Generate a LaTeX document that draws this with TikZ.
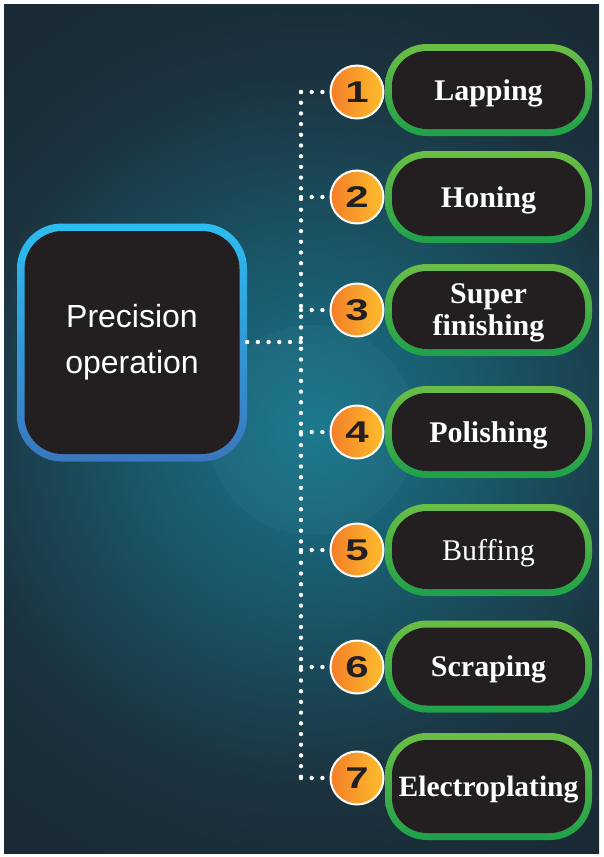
\documentclass[tikz,border=0pt]{standalone}
\usepackage{fontspec}
\setmainfont{Liberation Serif}
\newfontfamily\headfont{Liberation Sans}
\newfontfamily\numfont[FakeStretch=1.4]{Liberation Sans Bold}
\usepackage{tikz}
\usetikzlibrary{positioning}

\definecolor{bgdark}{RGB}{25,36,47}
\definecolor{glowin}{RGB}{22,118,140}
\definecolor{glowmid}{RGB}{26,88,106}
\definecolor{glowout}{RGB}{27,50,62}
\definecolor{boxfill}{RGB}{35,31,32}
\definecolor{bluetop}{RGB}{43,190,240}
\definecolor{bluebot}{RGB}{58,118,190}
\definecolor{grntop}{RGB}{108,190,69}
\definecolor{grnbot}{RGB}{30,160,74}
\definecolor{orgleft}{RGB}{244,125,40}
\definecolor{orgright}{RGB}{253,190,45}
\pgfdeclareradialshading{bgglow}{\pgfpoint{0bp}{0bp}}{color(0bp)=(glowin); color(7bp)=(glowmid); color(15bp)=(glowout); color(25bp)=(bgdark); color(50bp)=(bgdark)}

\begin{document}
\begin{tikzpicture}[
    x=1pt, y=-1pt,
    mainbox/.style={rectangle, rounded corners=45pt, minimum width=230pt, minimum height=238pt,
                    top color=bluetop, bottom color=bluebot, text=white, align=center,
                    font=\headfont\fontsize{32}{46}\selectfont,
                    path picture={\fill[boxfill, rounded corners=38pt]
                      ([shift={(7.5pt,7.5pt)}]path picture bounding box.south west) rectangle
                      ([shift={(-7.5pt,-7.5pt)}]path picture bounding box.north east);}},
    itembox/.style={rectangle, rounded corners=42pt, minimum width=207pt, minimum height=92pt,
                    inner sep=2pt, text depth=0pt, top color=grntop, bottom color=grnbot,
                    text=white, align=center, font=\bfseries\fontsize{30}{32}\selectfont,
                    path picture={\fill[boxfill, rounded corners=35pt]
                      ([shift={(7pt,7pt)}]path picture bounding box.south west) rectangle
                      ([shift={(-7pt,-7pt)}]path picture bounding box.north east);}},
    numdot/.style={circle, draw=white, line width=2pt, left color=orgleft, right color=orgright,
                   minimum size=53pt, inner sep=0pt, text=boxfill,
                   font=\numfont\fontsize{30}{30}\selectfont},
    link/.style={white, line width=4.4pt, line cap=round, dash pattern=on 0pt off 10.7pt}
]
\useasboundingbox (0,0) rectangle (603,857);

% Background
\fill[white] (0,0) rectangle (603,857);
\begin{scope}
  \clip (4,4) rectangle (599,853);
  \fill[bgdark] (4,4) rectangle (599,853);
  \shade[shading=bgglow] (312,430) circle (600);
  \fill[white, opacity=0.03] (312,430) circle (105);
\end{scope}

% Root
\node[mainbox] (main) at (132,342.5) {Precision\\operation};

% Numbers
\node[numdot] (c1) at (357,92) {1};
\node[numdot] (c2) at (357,197) {2};
\node[numdot] (c3) at (357,310) {3};
\node[numdot] (c4) at (357,432) {4};
\node[numdot] (c5) at (357,550) {5};
\node[numdot] (c6) at (357,667) {6};
\node[numdot] (c7) at (357,778) {7};

% Operations
\node[itembox] (b1) at (488.5,90) {Lapping};
\node[itembox] (b2) at (488.5,197) {Honing};
\node[itembox] (b3) at (488.5,310) {Super\\finishing};
\node[itembox] (b4) at (488.5,432) {Polishing};
\node[itembox, font=\fontsize{30}{32}\selectfont] (b5) at (488.5,550) {Buffing};
\node[itembox] (b6) at (488.5,666.5) {Scraping};
\node[itembox, minimum height=107pt, font=\bfseries\fontsize{29.5}{32}\selectfont] (b7) at (488.5,786.5) {Electroplating};

% Trunk
\coordinate (j0) at (301,342);
\coordinate (j1) at (301,92);
\coordinate (j2) at (301,197);
\coordinate (j3) at (301,310);
\coordinate (j4) at (301,432);
\coordinate (j5) at (301,550);
\coordinate (j6) at (301,667);
\coordinate (j7) at (301,778);

% Dotted links
\draw[link] (main.east |- j0) -- (j0);
\draw[link] (j1) -- (j7);
\draw[link] (j1) -- (c1.west);
\draw[link] (j2) -- (c2.west);
\draw[link] (j3) -- (c3.west);
\draw[link] (j4) -- (c4.west);
\draw[link] (j5) -- (c5.west);
\draw[link] (j6) -- (c6.west);
\draw[link] (j7) -- (c7.west);
\end{tikzpicture}
\end{document}
